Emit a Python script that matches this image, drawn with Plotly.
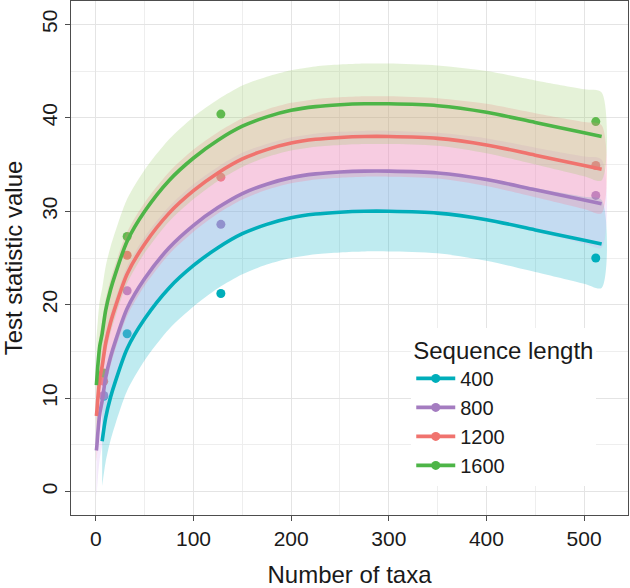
import plotly.graph_objects as go

# ---- data ----
groups = ["400", "800", "1200", "1600"]
line_colors = ["#00AEBA", "#A47CC0", "#F0736E", "#4DB547"]
fill_colors = ["rgba(0,175,195,0.25)", "rgba(210,170,245,0.25)",
               "rgba(255,115,143,0.25)", "rgba(150,205,100,0.25)"]

taxa = [8, 32, 128, 512]
obs_400 = [10.2, 16.9, 21.2, 25.0]
obs_800 = [10.3, 21.5, 28.6, 31.7]
obs_1200 = [11.8, 25.3, 33.65, 34.9]
obs_1600 = [12.7, 27.3, 40.4, 39.6]

fit_x = [0.5, 1, 2, 4, 6.4, 10, 15, 20, 32, 50, 75, 100, 125, 150, 175, 200,
         225, 250, 275, 300, 350, 400, 450, 500, 518]
fit_x_400 = fit_x[4:]
fit_400 = [5.4, 7.9, 10.1, 11.8, 15.3, 18.5, 21.8, 24.2, 26.1, 27.6, 28.6,
           29.3, 29.7, 29.9, 30.0, 30.0, 29.8, 29.1, 28.0, 26.9, 26.5]
fit_800 = [4.4, 4.9, 6.3, 8.4, 9.7, 12.2, 14.4, 16.1, 19.6, 22.8, 26.1, 28.5,
           30.4, 31.9, 32.9, 33.6, 34.0, 34.2, 34.3, 34.3, 34.1, 33.4, 32.3,
           31.2, 30.8]
fit_1200 = [8.1, 8.6, 10.0, 12.1, 13.4, 15.9, 18.1, 19.8, 23.3, 26.5, 29.8,
            32.2, 34.1, 35.6, 36.6, 37.3, 37.7, 37.9, 38.0, 38.0, 37.8, 37.1,
            36.0, 34.9, 34.5]
fit_1600 = [11.4, 12.1, 13.5, 15.6, 16.9, 19.4, 21.6, 23.3, 26.8, 30.0, 33.3,
            35.7, 37.6, 39.1, 40.1, 40.8, 41.2, 41.4, 41.5, 41.5, 41.3, 40.6,
            39.5, 38.4, 38.0]
ci_half = [4.9, 4.9, 4.85, 4.85, 4.8, 4.7, 4.6, 4.55, 4.5, 4.45, 4.4, 4.4,
           4.35, 4.35, 4.3, 4.3, 4.3, 4.3, 4.3, 4.3, 4.3, 4.4, 4.5, 4.65, 4.7]
ci_half_400 = ci_half[4:]

x_ticks = [0, 100, 200, 300, 400, 500]
y_ticks = [0, 10, 20, 30, 40, 50]

series = [
    (obs_400, fit_x_400, fit_400, ci_half_400),
    (obs_800, fit_x, fit_800, ci_half),
    (obs_1200, fit_x, fit_1200, ci_half),
    (obs_1600, fit_x, fit_1600, ci_half),
]

FONT = "Liberation Sans, Arial, Helvetica, sans-serif"
fig = go.Figure()

# points (under the ribbons, as in the reference)
for g, col, (obs, fx, fy, hw) in zip(groups, line_colors, series):
    fig.add_trace(go.Scatter(x=taxa, y=obs, mode="markers",
                             marker=dict(color=col, size=9),
                             showlegend=False, hoverinfo="skip"))

# confidence ribbons
for g, fc, (obs, fx, fy, hw) in zip(groups, fill_colors, series):
    upper = [a + b for a, b in zip(fy, hw)]
    lower = [a - b for a, b in zip(fy, hw)]
    fig.add_trace(go.Scatter(x=list(fx) + list(fx)[::-1],
                             y=upper + lower[::-1],
                             mode="lines", fill="toself", fillcolor=fc,
                             line=dict(width=0, shape="spline", smoothing=0.8),
                             showlegend=False, hoverinfo="skip"))

# fitted lines
for g, col, (obs, fx, fy, hw) in zip(groups, line_colors, series):
    fig.add_trace(go.Scatter(x=fx, y=fy, mode="lines",
                             line=dict(color=col, width=3.6, shape="spline", smoothing=0.8),
                             showlegend=False, hoverinfo="skip"))

# legend entries
for g, col in zip(groups, line_colors):
    fig.add_trace(go.Scatter(x=[None], y=[None], mode="lines+markers", name=g,
                             line=dict(color=col, width=3.6),
                             marker=dict(color=col, size=9)))

axis_common = dict(
    showline=True, mirror=True, linecolor="#4d4d4d", linewidth=1,
    ticks="outside", ticklen=5, tickcolor="#4d4d4d", tickwidth=1,
    gridcolor="#E4E4E4", gridwidth=1.2, zeroline=False, automargin=False,
    tickfont=dict(size=21, color="#1a1a1a", family=FONT),
)

fig.update_layout(
    width=630, height=588,
    margin=dict(l=71, r=2, t=1, b=73),
    plot_bgcolor="white", paper_bgcolor="white",
    font=dict(family=FONT, size=21, color="#1a1a1a"),
    xaxis=dict(range=[-25.5, 545], tickvals=x_ticks,
               minor=dict(tickvals=[50, 150, 250, 350, 450], showgrid=True,
                          gridcolor="#EEEEEE", gridwidth=0.8, ticks=""),
               title=dict(text="Number of taxa", font=dict(size=24, family=FONT),
                          standoff=18),
               **axis_common),
    yaxis=dict(range=[-2.5, 52.5], tickvals=y_ticks, tickangle=-90,
               minor=dict(tickvals=[5, 15, 25, 35, 45], showgrid=True,
                          gridcolor="#EEEEEE", gridwidth=0.8, ticks=""),
               title=dict(text="Test statistic value", font=dict(size=24, family=FONT),
                          standoff=10),
               **axis_common),
    legend=dict(x=0.943, y=0.057, xanchor="right", yanchor="bottom",
                bgcolor="white", borderwidth=0,
                title=dict(text="Sequence length", font=dict(size=24, family=FONT)),
                font=dict(size=20, family=FONT), itemwidth=39,
                traceorder="normal", tracegroupgap=0),
)

fig.write_html("out.html", config={"displayModeBar": False},
               post_script="document.body.style.margin='0';document.body.style.padding='0';")
